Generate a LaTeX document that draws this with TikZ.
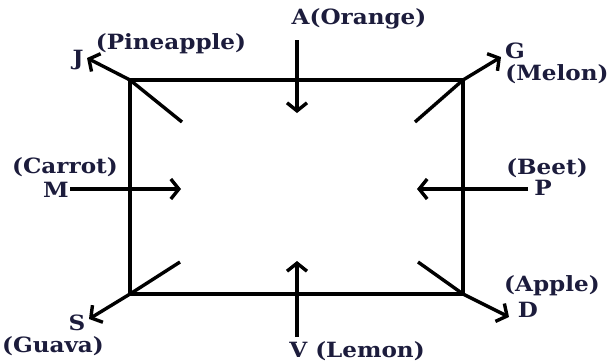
\documentclass[tikz,border=0pt]{standalone}
\usepackage{fontspec}
\setmainfont{DejaVu Serif}
\usepackage{tikz}
\usetikzlibrary{arrows.meta}
\definecolor{labelnavy}{RGB}{28,28,60}

\begin{document}
\begin{tikzpicture}[
    x=1pt, y=-1pt,
    edge/.style={line width=3.4pt, black},
    pointer/.style={edge, -{Straight Barb[length=8pt, width=20pt]}},
    fruit/.style={font=\fontsize{21}{21}\selectfont\bfseries, text=labelnavy, inner sep=0pt, xscale=1.1}
]
\useasboundingbox (0,0) rectangle (611,362);

% Corners of the frame
\coordinate (tl) at (130,80);
\coordinate (tr) at (463,80);
\coordinate (bl) at (130,294);
\coordinate (br) at (463,294);

% Arrow ends
\coordinate (aTop) at (297,40);   \coordinate (aIn) at (297,113);
\coordinate (jIn) at (182,122);   \coordinate (jTip) at (87,58);
\coordinate (gIn) at (415,122);   \coordinate (gTip) at (501,57);
\coordinate (mOut) at (70,189);   \coordinate (mIn) at (181,189);
\coordinate (pOut) at (528,189);  \coordinate (pIn) at (417,189);
\coordinate (sIn) at (180,262);   \coordinate (sTip) at (89,319);
\coordinate (dIn) at (418,262);   \coordinate (dTip) at (509,317);
\coordinate (vOut) at (297,337);  \coordinate (vIn) at (297,261);

% Frame
\draw[edge] (tl) rectangle (br);

% Arrows
\draw[pointer] (aTop) -- (aIn);
\draw[pointer] (jIn) -- (tl) -- (jTip);
\draw[pointer] (gIn) -- (tr) -- (gTip);
\draw[pointer] (mOut) -- (mIn);
\draw[pointer] (pOut) -- (pIn);
\draw[pointer] (sIn) -- (bl) -- (sTip);
\draw[pointer] (dIn) -- (br) -- (dTip);
\draw[pointer] (vOut) -- (vIn);

% Labels
\node[fruit] (orange) at (359,19) {A(Orange)};
\node[fruit] (jlab) at (78,60) {J};
\node[fruit] (pine) at (171,44) {(Pineapple)};
\node[fruit] (glab) at (515,51) {G};
\node[fruit] (melon) at (557,74) {(Melon)};
\node[fruit] (carrot) at (65,167) {(Carrot)};
\node[fruit] (mlab) at (56,190) {M};
\node[fruit] (beet) at (547,168) {(Beet)};
\node[fruit] (plab) at (543,188) {P};
\node[fruit] (slab) at (77,323) {S};
\node[fruit] (guava) at (53,346) {(Guava)};
\node[fruit] (apple) at (552,286) {(Apple)};
\node[fruit] (dlab) at (528,310) {D};
\node[fruit] (lemon) at (357,351) {V (Lemon)};

\end{tikzpicture}
\end{document}
